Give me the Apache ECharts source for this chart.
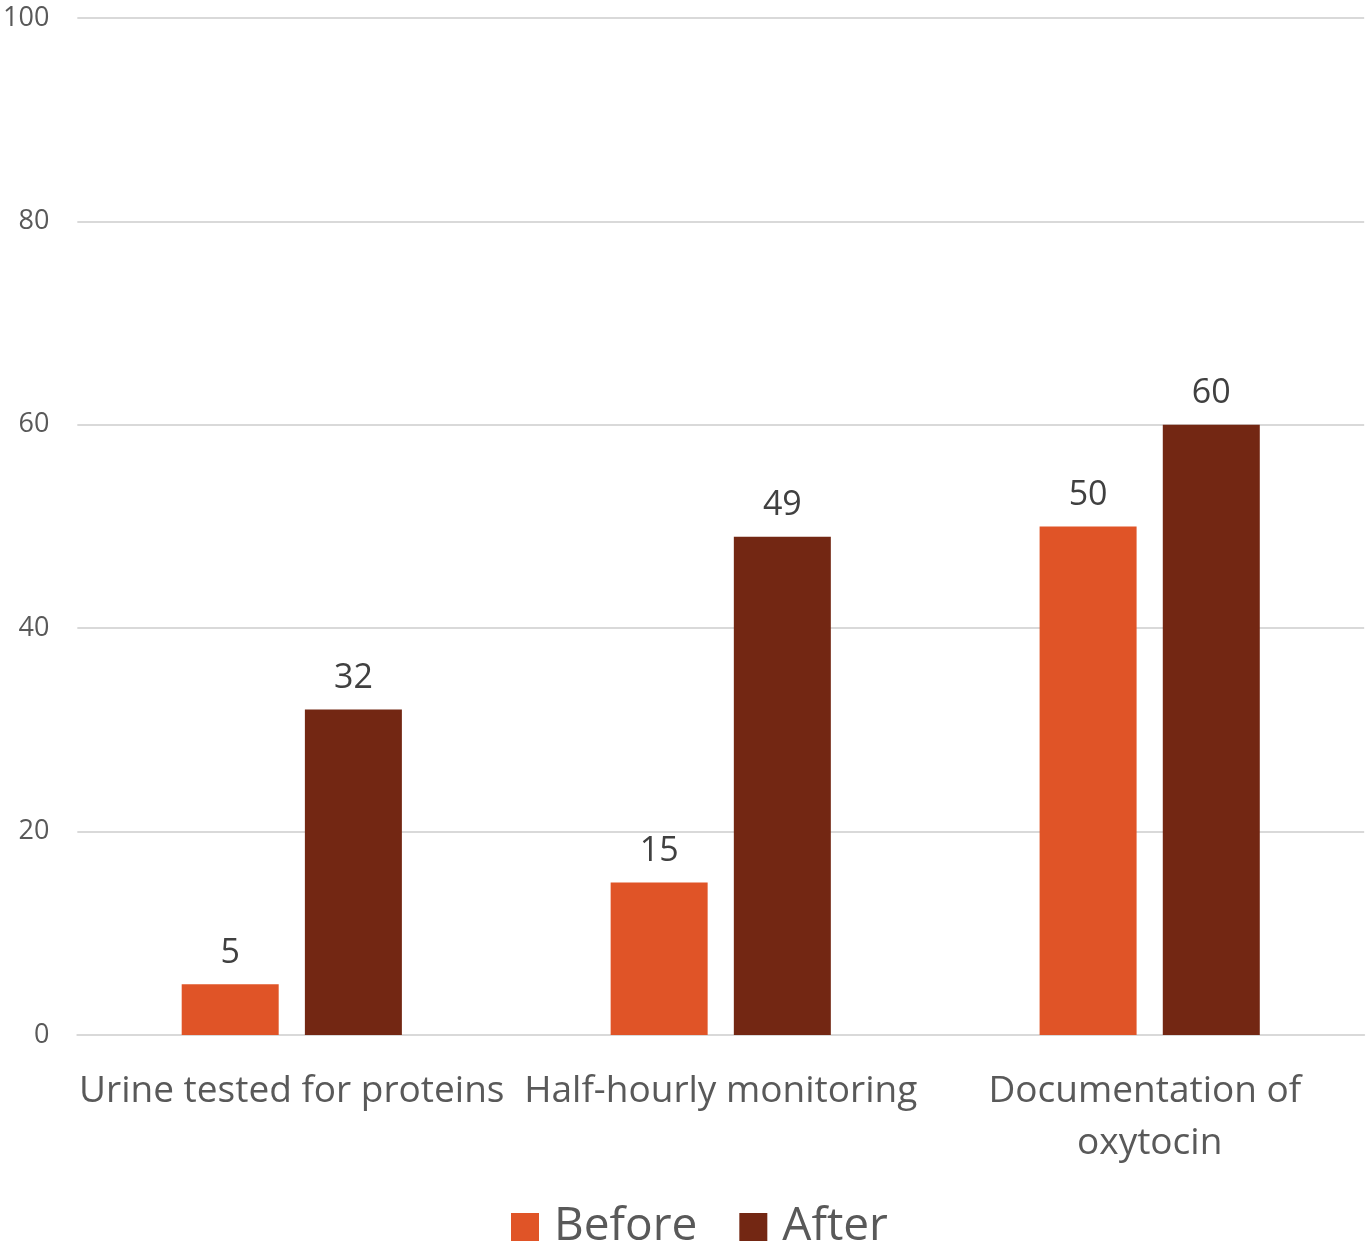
<!DOCTYPE html>
<html>
<head>
<meta charset="utf-8">
<script src="https://cdn.jsdelivr.net/npm/echarts@6/dist/echarts.min.js"></script>
<style>
  html, body { margin: 0; padding: 0; background: #ffffff; }
  #chart { width: 1372px; height: 1248px; }
</style>
</head>
<body>
<div id="chart"></div>
<script>
// Measures recorded before and after the intervention
const categories = ['Urine tested for proteins', 'Half-hourly monitoring', 'Documentation of oxytocin'];
const beforeValues = [5, 15, 50];
const afterValues = [32, 49, 60];
const seriesNames = ['Before', 'After'];
const yTicks = [0, 20, 40, 60, 80, 100];

const FONT = '"Open Sans", "Noto Sans", sans-serif';
const colors = ['#E05427', '#732713'];

const chart = echarts.init(document.getElementById('chart'), null, { renderer: 'canvas' });

const labelStyle = {
  show: true,
  position: 'top',
  distance: 14,
  color: '#404040',
  fontFamily: FONT,
  fontSize: 34
};

chart.setOption({
  animation: false,
  backgroundColor: '#ffffff',
  color: colors,
  grid: { left: 76, right: 5, top: 18, bottom: 213, containLabel: false },
  legend: {
    data: seriesNames,
    left: 506,
    top: 1199,
    itemWidth: 28,
    itemHeight: 28,
    itemGap: 42,
    icon: 'rect',
    textStyle: { color: '#595959', fontFamily: FONT, fontSize: 46, padding: [0, 0, 0, 10] }
  },
  xAxis: {
    type: 'category',
    data: categories,
    axisLine: { show: true, lineStyle: { color: '#d9d9d9', width: 2 } },
    axisTick: { show: false },
    axisLabel: {
      interval: 0,
      margin: 30,
      color: '#595959',
      fontFamily: FONT,
      fontSize: 37,
      lineHeight: 52,
      width: 440,
      overflow: 'break'
    }
  },
  yAxis: {
    type: 'value',
    min: yTicks[0],
    max: yTicks[yTicks.length - 1],
    interval: yTicks[1] - yTicks[0],
    axisLine: { show: false },
    axisTick: { show: false },
    splitLine: { lineStyle: { color: '#d9d9d9', width: 2 } },
    axisLabel: { margin: 28, color: '#595959', fontFamily: FONT, fontSize: 27 }
  },
  series: [
    {
      name: seriesNames[0],
      type: 'bar',
      data: beforeValues,
      barWidth: 97,
      barGap: '27%',
      label: labelStyle
    },
    {
      name: seriesNames[1],
      type: 'bar',
      data: afterValues,
      barWidth: 97,
      barGap: '27%',
      label: labelStyle
    }
  ]
});
</script>
</body>
</html>
